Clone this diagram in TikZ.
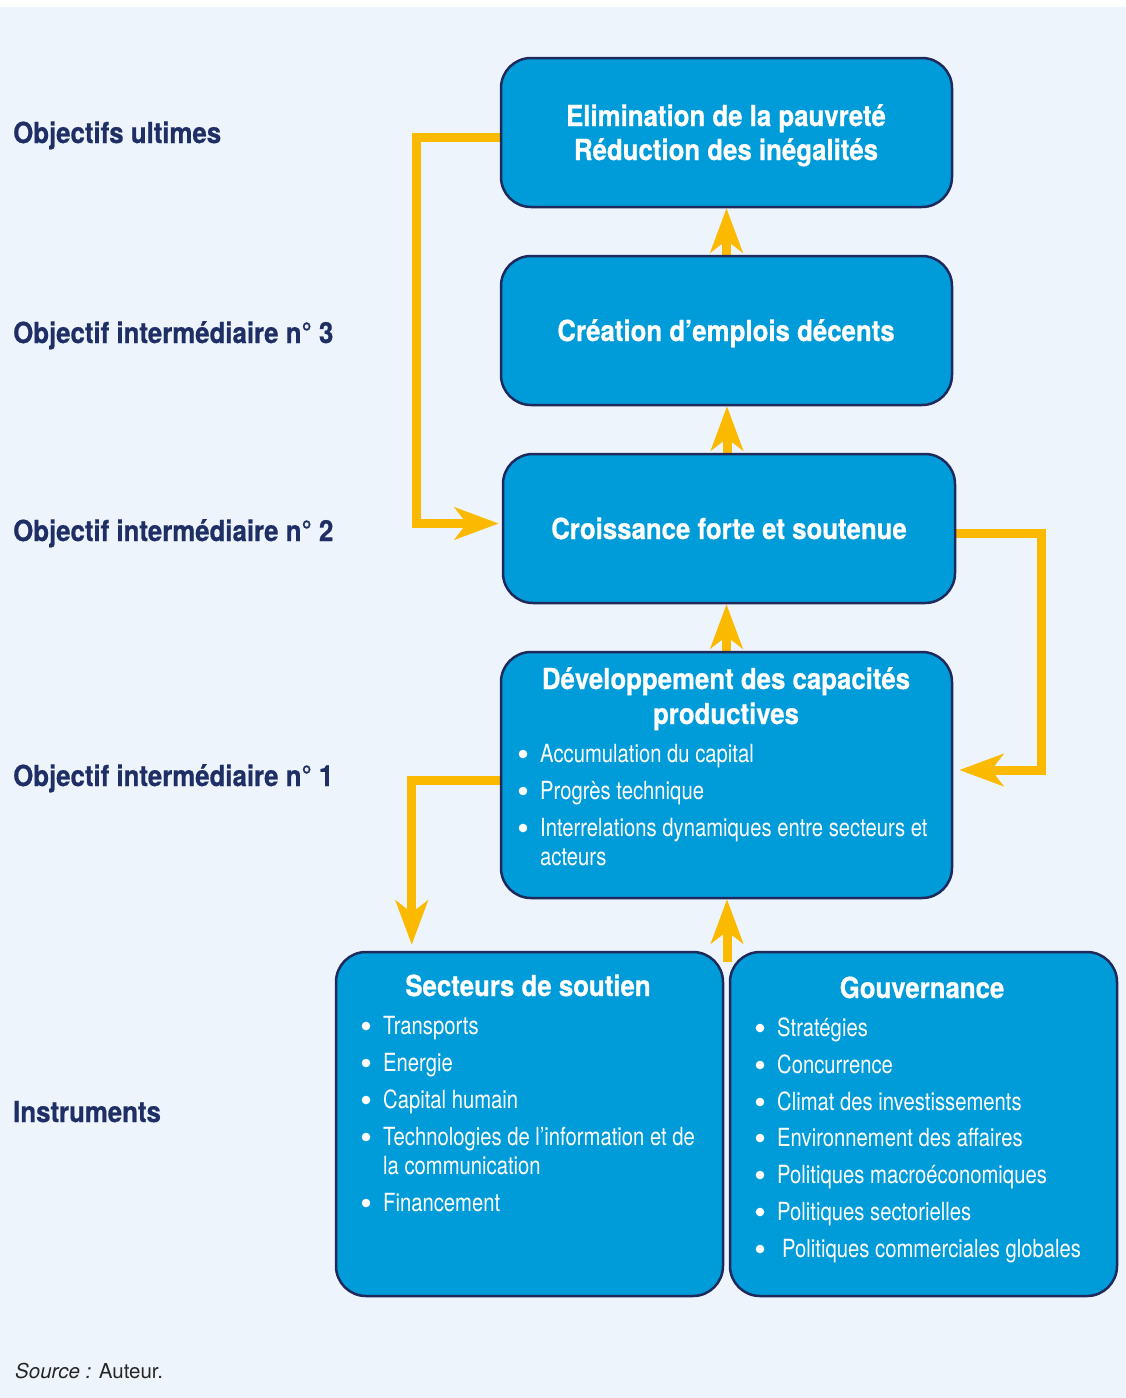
\documentclass[tikz,border=0pt]{standalone}
\usepackage{fontspec}
\setmainfont{TeX Gyre Heros}
\newfontfamily\condB[FakeStretch=0.89,FakeBold=0.6]{TeX Gyre Heros}
\newfontfamily\condR[FakeStretch=0.81]{TeX Gyre Heros}
\usetikzlibrary{arrows.meta,calc,backgrounds}
\definecolor{bgc}{HTML}{EEF4FC}
\definecolor{boxc}{HTML}{009BD9}
\definecolor{navy}{HTML}{1F2A5C}
\definecolor{labc}{HTML}{1F2F66}
\definecolor{arr}{HTML}{FBB900}
\tikzset{
 box/.style={draw=navy, line width=2.5pt, fill=boxc, rounded corners=30pt, inner sep=0pt},
 lab/.style={anchor=base west, inner sep=0pt, text=labc, font=\condB\bfseries\fontsize{29}{34}\selectfont},
 ttl/.style={anchor=base, inner sep=0pt, text=white, font=\condB\bfseries\fontsize{29}{34}\selectfont},
 itm/.style={anchor=base west, inner sep=0pt, text=white, font=\condR\fontsize{25}{29}\selectfont},
 flow/.style={draw=arr, line width=9pt, -{Stealth[length=44pt,width=32pt,inset=12pt]}},
 bul/.style={fill=white},
}
\begin{document}
\begin{tikzpicture}[x=1pt,y=-1pt]
\useasboundingbox (0,0) rectangle (1126,1398);
% boxes
\node[box, minimum width=451pt, minimum height=149pt] (b1) at (726.5,132.5) {};
\node[box, minimum width=451pt, minimum height=149pt] (b2) at (726.5,330.5) {};
\node[box, minimum width=452pt, minimum height=149pt] (b3) at (729,528.5) {};
\node[box, minimum width=451pt, minimum height=246pt] (b4) at (726.5,775) {};
\node[box, minimum width=387pt, minimum height=344pt] (b5) at (529.5,1124) {};
\node[box, minimum width=387pt, minimum height=344pt] (b6) at (923.5,1124) {};
\coordinate (j) at (727,962);
\begin{scope}[on background layer]
\fill[bgc] (0,7) rectangle (1126,1398);
\draw[flow] ($(b2.north)+(0,5)$) -- (b1.south);
\draw[flow] ($(b3.north)+(-2,5)$) -- ($(b3.north |- b2.south)+(-2,0)$);
\draw[flow] ($(b4.north)+(0,5)$) -- (b4.north |- b3.south);
\draw[flow] (j) -- (j |- b4.south);
\draw[flow] ($(b1.west)+(6,5)$) -- ++(-89,0) |- ($(b3.west)+(-3,-5)$);
\draw[flow] ($(b3.east)+(-6,5)$) -- ++(91,0) |- ($(b4.east)+(6,-5)$);
\draw[flow] ($(b4.west)+(6,5)$) -- ++(-94,0) -- ($(b5.north west)+(77,-6)$);
\end{scope}
% left labels
\node[lab] (l1) at (13,143) {Objectifs ultimes};
\node[lab] (l2) at (13,343) {Objectif intermédiaire n° 3};
\node[lab] (l3) at (13,541) {Objectif intermédiaire n° 2};
\node[lab] (l4) at (13,786) {Objectif intermédiaire n° 1};
\node[lab] (l5) at (13,1122) {Instruments};
% box titles
\node[ttl] (t1a) at (726,126) {Elimination de la pauvreté};
\node[ttl] (t1b) at (726,160) {Réduction des inégalités};
\node[ttl] (t2) at (726,341) {Création d’emplois décents};
\node[ttl] (t3) at (729,539) {Croissance forte et soutenue};
\node[ttl] (t4a) at (726,689) {Développement des capacités};
\node[ttl] (t4b) at (726,724) {productives};
\node[ttl] (t5) at (528,996) {Secteurs de soutien};
\node[ttl] (t6) at (922,998) {Gouvernance};
% box 4 items
\node[itm] (i41) at (540,762) {Accumulation du capital};
\node[itm] (i42) at (540,799) {Progrès technique};
\node[itm] (i43) at (540,836) {Interrelations dynamiques entre secteurs et};
\node[itm] (i44) at (540,865) {acteurs};
\foreach \y in {762,799,836} \fill[bul] (523,\y-8) circle (4.3pt);
% box 5 items
\node[itm] (i51) at (383,1034) {Transports};
\node[itm] (i52) at (383,1071) {Energie};
\node[itm] (i53) at (383,1108) {Capital humain};
\node[itm] (i54) at (383,1145) {Technologies de l’information et de};
\node[itm] (i55) at (383,1174) {la communication};
\node[itm] (i56) at (383,1211) {Financement};
\foreach \y in {1034,1071,1108,1145,1211} \fill[bul] (366,\y-8) circle (4.3pt);
% box 6 items
\node[itm] (i61) at (777,1036) {Stratégies};
\node[itm] (i62) at (777,1073) {Concurrence};
\node[itm] (i63) at (777,1110) {Climat des investissements};
\node[itm] (i64) at (777,1146) {Environnement des affaires};
\node[itm] (i65) at (777,1183) {Politiques macroéconomiques};
\node[itm] (i66) at (777,1220) {Politiques sectorielles};
\node[itm] (i67) at (782,1257) {Politiques commerciales globales};
\foreach \y in {1036,1073,1110,1146,1183,1220,1257} \fill[bul] (760,\y-8) circle (4.3pt);
% source
\node[anchor=base west, inner sep=0pt, text=black!85, font=\fontsize{20.5}{24}\selectfont] (src) at (15,1378) {\textit{Source :} Auteur.};
\end{tikzpicture}
\end{document}
